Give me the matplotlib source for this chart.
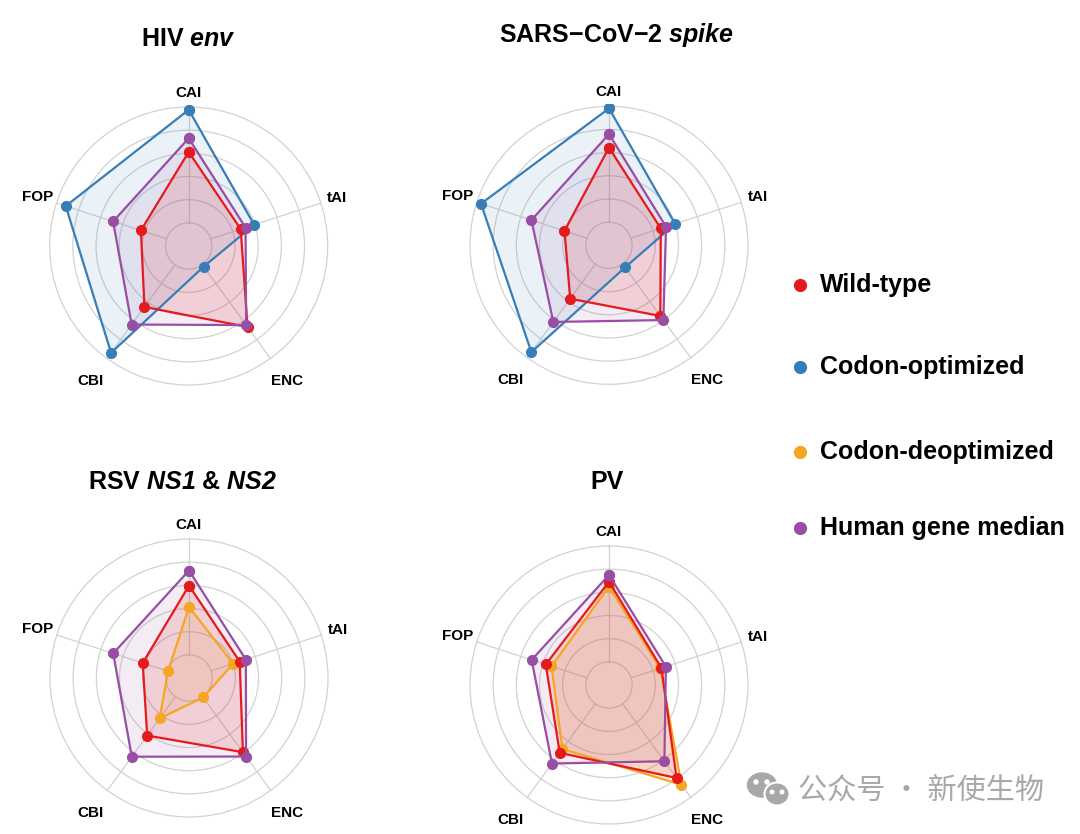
import numpy as np
import matplotlib.pyplot as plt
from matplotlib.lines import Line2D
from matplotlib.patches import Ellipse

plt.rcParams['font.family'] = ['Liberation Sans', 'DejaVu Sans']
plt.rcParams['mathtext.fontset'] = 'custom'
plt.rcParams['mathtext.rm'] = 'Liberation Sans:bold'
plt.rcParams['mathtext.it'] = 'Liberation Sans:italic:bold'
plt.rcParams['mathtext.sf'] = 'Liberation Sans:italic:bold'
plt.rcParams['mathtext.bf'] = 'Liberation Sans:bold'

# --- data (values on a 0-6 ring scale) ---
metrics = ['CAI', 'tAI', 'ENC', 'CBI', 'FOP']

hiv_wild = [4.06, 2.36, 4.32, 3.25, 2.17]
hiv_opt = [5.88, 2.97, 1.10, 5.70, 5.58]
hiv_human = [4.65, 2.58, 4.22, 4.19, 3.43]

sars_wild = [4.22, 2.35, 3.77, 2.85, 2.02]
sars_opt = [5.91, 3.00, 1.18, 5.70, 5.81]
sars_human = [4.80, 2.59, 3.99, 4.09, 3.52]

rsv_wild = [3.99, 2.30, 3.96, 3.07, 2.10]
rsv_deopt = [3.07, 2.00, 1.04, 2.16, 0.95]
rsv_human = [4.64, 2.58, 4.19, 4.20, 3.44]

pv_wild = [4.46, 2.38, 4.96, 3.62, 2.87]
pv_deopt = [4.25, 2.33, 5.32, 3.42, 2.61]
pv_human = [4.75, 2.58, 4.07, 4.19, 3.51]

series_names = ['Wild-type', 'Codon-optimized', 'Codon-deoptimized', 'Human gene median']
colors = {'Wild-type': '#E41A1C', 'Codon-optimized': '#377EB8',
          'Codon-deoptimized': '#F5A623', 'Human gene median': '#984EA3'}
fill_alpha = {'Wild-type': 0.14, 'Codon-optimized': 0.10,
              'Codon-deoptimized': 0.14, 'Human gene median': 0.10}

panels = [
    ('HIV $\\mathsf{env}$', (188.7, 246),
     [('Codon-optimized', hiv_opt), ('Wild-type', hiv_wild), ('Human gene median', hiv_human)]),
    ('SARS\u2212CoV\u22122 $\\mathsf{spike}$', (609, 245.3),
     [('Codon-optimized', sars_opt), ('Wild-type', sars_wild), ('Human gene median', sars_human)]),
    ('RSV $\\mathsf{NS1}$ & $\\mathsf{NS2}$', (189, 678),
     [('Codon-deoptimized', rsv_deopt), ('Wild-type', rsv_wild), ('Human gene median', rsv_human)]),
    ('PV', (609, 685),
     [('Codon-deoptimized', pv_deopt), ('Wild-type', pv_wild), ('Human gene median', pv_human)]),
]
title_pos = [(188, 39), (616, 35), (183, 482), (607, 482)]

W, H = 1080, 834
unit = 139 / 6.0
rmax = 6.1
grid_col = '#d2d2d2'

fig = plt.figure(figsize=(W / 100, H / 100), dpi=100)

angles = np.linspace(0, 2 * np.pi, len(metrics), endpoint=False)
ang_closed = np.append(angles, angles[0])
label_r = [6.62, 6.75, 7.2, 7.2, 6.85]

for (title, (cx, cy), series), (tx, ty) in zip(panels, title_pos):
    half = rmax * unit
    ax = fig.add_axes([(cx - half) / W, (H - cy - half) / H, 2 * half / W, 2 * half / H],
                      projection='polar')
    ax.set_theta_offset(np.pi / 2)
    ax.set_theta_direction(-1)
    ax.set_ylim(0, rmax)
    ax.set_rgrids([1, 2, 3, 4, 5, 6], labels=[''] * 6)
    ax.set_xticks(angles)
    ax.set_xticklabels([])
    ax.xaxis.grid(False)
    ax.yaxis.grid(True, color=grid_col, linewidth=0.9)
    ax.spines['polar'].set_visible(False)
    ax.tick_params(length=0)
    for a in angles:
        ax.plot([a, a], [1, 6], color=grid_col, linewidth=0.9, zorder=1)

    for name, vals in series:
        v = np.append(vals, vals[0])
        ax.fill(ang_closed, v, color=colors[name], alpha=fill_alpha[name], linewidth=0, zorder=2)
        ax.plot(ang_closed, v, color=colors[name], linewidth=1.6, marker='o',
                markersize=7, zorder=3)

    for a, lab, r in zip(angles, metrics, label_r):
        ax.text(a, r, lab, ha='center', va='center', fontsize=11, fontweight='bold')

    fig.text(tx / W, 1 - ty / H, title, ha='center', va='center', fontsize=18,
             fontweight='bold')

# legend, placed by hand on the right
legend_y = [285, 367, 452, 528]
for name, y in zip(series_names, legend_y):
    fig.add_artist(Line2D([800 / W], [1 - y / H], transform=fig.transFigure,
                          linestyle='none', marker='o', markersize=8.5,
                          color=colors[name]))
    fig.text(820 / W, 1 - y / H, name, ha='left', va='center', fontsize=18,
             fontweight='bold')

# watermark
wm = '#a8a8a8'
fig.patches.append(Ellipse((762 / W, 1 - 785 / H), 29 / W, 24 / H,
                           transform=fig.transFigure, color=wm, zorder=5))
for ex in (756, 767):
    fig.patches.append(Ellipse((ex / W, 1 - 782 / H), 4 / W, 4 / H,
                               transform=fig.transFigure, color='white', zorder=6))
fig.patches.append(Ellipse((777 / W, 1 - 794 / H), 25 / W, 23 / H,
                           transform=fig.transFigure, facecolor=wm, edgecolor='white',
                           linewidth=1.5, zorder=7))
for ex in (772, 782):
    fig.patches.append(Ellipse((ex / W, 1 - 792 / H), 3.5 / W, 3.5 / H,
                               transform=fig.transFigure, color='white', zorder=8))
fig.text(798 / W, 1 - 791 / H, '公众号 · 新使生物', ha='left', va='center',
         fontsize=21, color=wm, family=['Noto Sans CJK SC', 'DejaVu Sans'])

fig.savefig('out.png', dpi=100)
